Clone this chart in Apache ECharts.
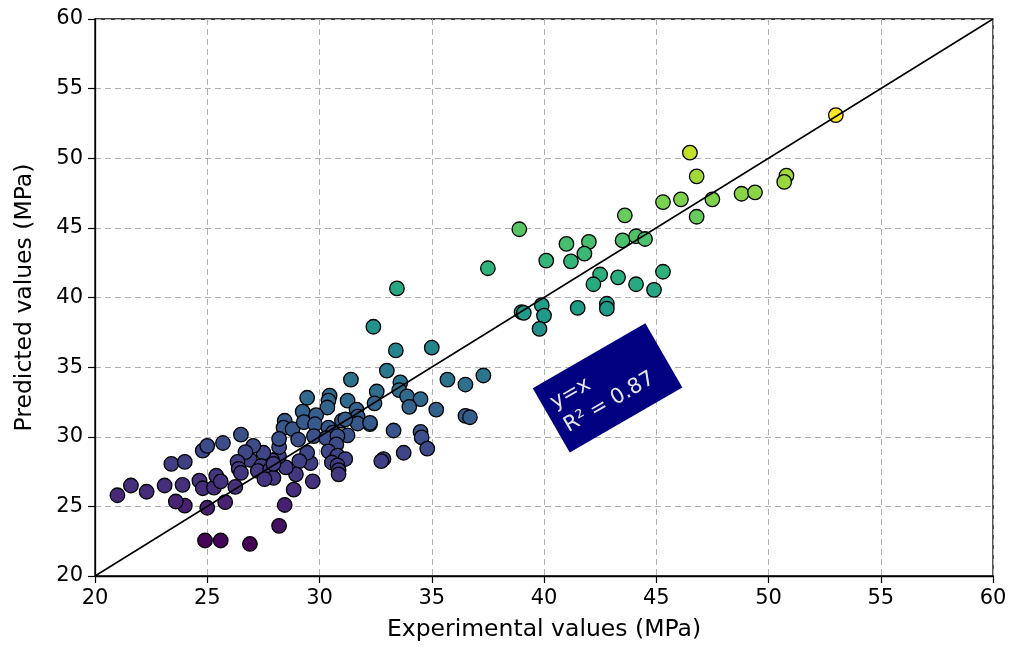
<!DOCTYPE html>
<html><head><meta charset="utf-8">
<script src="https://cdn.jsdelivr.net/npm/echarts/dist/echarts.min.js"></script>
<style>html,body{margin:0;padding:0;background:#fff}#c{width:1021px;height:647px}</style>
</head><body><div id="c"></div>
<script>
// Experimental (x) and predicted (y) values in MPa
const experimental = [
 53.0,46.5,46.8,50.8,50.7,48.8,49.4,47.5,46.1,45.3,46.8,43.6,43.5,44.1,44.5,38.9,41.0,42.0,41.8,41.2,
 40.1,37.5,42.5,42.2,43.3,44.1,45.3,44.9,41.5,42.8,42.8,39.0,39.1,39.9,40.0,39.8,33.45,32.4,33.4,35.0,
 33.0,31.4,33.6,32.55,33.55,33.9,34.5,34.0,35.7,36.5,37.3,35.2,36.5,36.7,33.3,34.5,34.55,34.8,33.75,32.85,
 32.75,32.25,32.45,31.25,31.65,31.7,31.7,31.25,31.0,30.45,30.4,30.35,29.45,29.25,28.45,28.4,28.8,29.3,29.85,29.8,
 29.75,29.05,30.4,30.6,30.3,30.8,30.75,30.4,30.8,31.15,30.55,30.8,30.85,30.85,32.25,31.15,
 29.7,28.85,29.6,29.45,29.1,28.95,28.5,28.2,28.2,28.2,27.9,27.5,27.05,26.9,26.7,26.5,26.35,26.4,26.5,27.4,
 27.25,27.8,27.95,27.55,27.95,26.25,25.8,25.0,24.0,23.6,23.9,23.1,22.3,21.6,21.0,23.4,24.0,24.8,25.0,25.7,
 24.65,24.8,25.3,25.4,25.6,24.9,25.6,26.9,28.2,28.45
];
const predicted = [
 53.1,50.4,48.7,48.75,48.3,47.45,47.55,47.05,47.05,46.85,45.8,45.9,44.1,44.4,44.2,44.9,43.85,44.0,43.15,42.6,
 42.65,42.1,41.65,40.95,41.45,40.95,41.85,40.55,39.25,39.55,39.2,38.95,38.9,39.45,38.7,37.75,40.65,37.9,36.2,36.4,
 34.75,34.1,33.9,33.25,33.35,32.9,32.7,32.15,34.1,33.75,34.4,31.95,31.5,31.4,30.45,30.35,29.95,29.15,28.85,28.4,
 28.25,30.9,32.4,32.6,31.95,31.45,30.95,30.1,31.15,32.95,32.6,32.1,32.8,31.8,31.15,30.65,30.55,31.05,31.55,30.9,
 30.05,29.8,30.65,30.3,29.9,30.05,29.45,28.95,28.65,28.4,28.15,27.95,27.6,27.3,31.0,31.25,
 26.8,26.2,28.1,28.85,28.25,27.3,27.8,28.6,29.25,29.85,28.3,28.85,29.35,28.35,28.9,30.15,28.2,27.7,27.4,27.9,
 27.55,27.65,27.05,26.95,28.05,26.4,25.3,24.9,25.05,25.35,26.55,26.5,26.05,26.5,25.8,28.05,28.2,29.0,29.35,29.55,
 26.85,26.3,26.35,27.2,26.8,22.55,22.55,22.3,23.6,25.1
];
const axisTicks = [20,25,30,35,40,45,50,55,60];
const identityLine = [[20,20],[60,60]];
const annotationLines = ['y=x','R\u00B2 = 0.87'];
const annotationAnchor = [42.83, 33.51];

const viridis = ['#440154','#482878','#3e4989','#31688e','#26828e','#1f9e89','#35b779','#6ece58','#b5de2b','#fde725'];
const points = experimental.map((x,i)=>[x,predicted[i]]);
const yMin = Math.min(...predicted), yMax = Math.max(...predicted);
const FONT = 'DejaVu Sans';

const chart = echarts.init(document.getElementById('c'), null, {renderer:'canvas'});
const axisCommon = {
  type:'value', min:axisTicks[0], max:axisTicks[axisTicks.length-1], interval:5,
  nameLocation:'middle',
  nameTextStyle:{fontFamily:FONT,fontSize:23.5,color:'#000'},
  axisLine:{show:true,onZero:false,lineStyle:{color:'#000',width:1.3}},
  axisTick:{show:true,length:7,lineStyle:{color:'#000',width:1.2}},
  axisLabel:{fontFamily:FONT,fontSize:21,color:'#000',margin:12},
  splitLine:{show:true,lineStyle:{color:'#b0b0b0',width:1,type:[6,4]}}
};
chart.setOption({
  animation:false,
  backgroundColor:'#fff',
  grid:{left:95,right:28,top:19,bottom:70,show:true,borderColor:'#000',borderWidth:1.3,backgroundColor:'transparent'},
  xAxis:Object.assign({}, axisCommon, {name:'Experimental values (MPa)', nameGap:42}),
  yAxis:Object.assign({}, axisCommon, {name:'Predicted values (MPa)', nameGap:58}),
  visualMap:{show:false, type:'continuous', dimension:1, min:yMin, max:yMax, seriesIndex:0, inRange:{color:viridis}},
  series:[
    {type:'scatter', data:points, symbol:'circle', symbolSize:14.5, z:2,
     itemStyle:{borderColor:'#000', borderWidth:1.3, opacity:1}},
    {type:'line', data:identityLine, symbol:'none', z:3, silent:true,
     lineStyle:{color:'#000', width:1.5}}
  ]
});
const p = chart.convertToPixel({gridIndex:0}, annotationAnchor);
chart.setOption({
  graphic:[{
    type:'group', x:p[0], y:p[1], rotation:Math.PI/6, z:100,
    children:[
      {type:'rect', shape:{x:-65,y:-37,width:130,height:74}, style:{fill:'#000080'}},
      {type:'text', x:-56, y:0, style:{text:annotationLines.join('\n'), fill:'#e6e6e6',
        fontFamily:FONT, fontSize:21, lineHeight:27, align:'left', verticalAlign:'middle'}}
    ]
  }]
});
</script>
</body></html>
